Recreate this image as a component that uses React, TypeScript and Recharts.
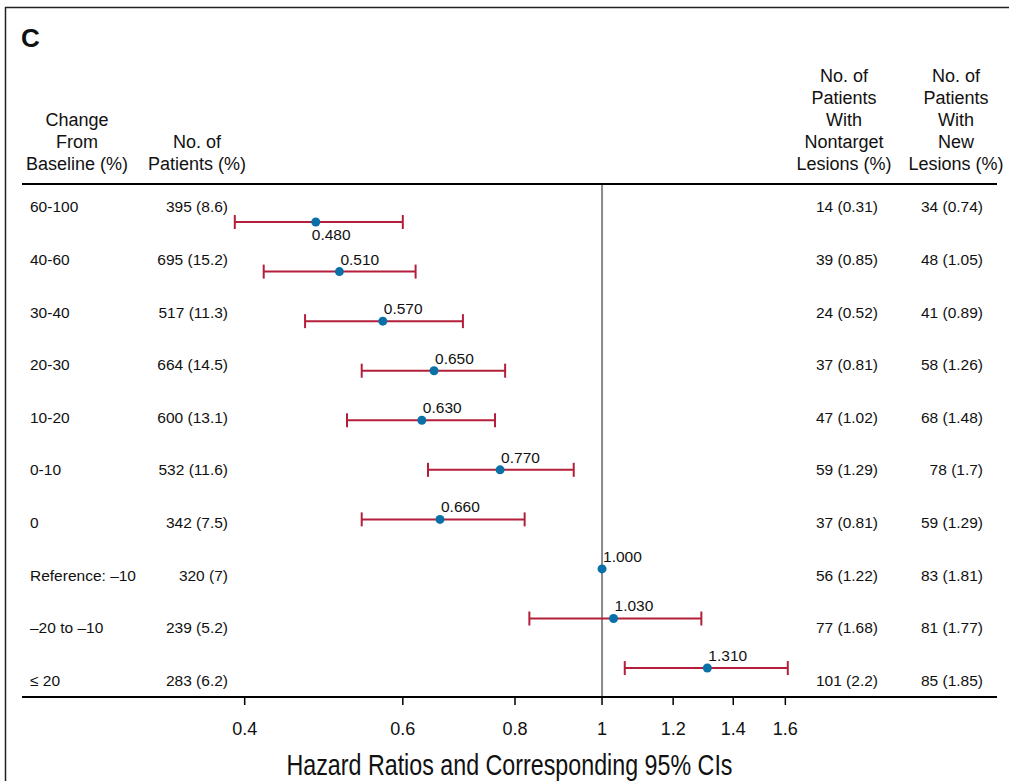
import React from "react";
import {
  ScatterChart,
  Scatter,
  XAxis,
  YAxis,
  ErrorBar,
  ReferenceLine,
} from "recharts";

// rows, top to bottom
const changeGroups = [
  "60-100",
  "40-60",
  "30-40",
  "20-30",
  "10-20",
  "0-10",
  "0",
  "Reference: –10",
  "–20 to –10",
  "≤ 20",
];
const patientCounts = [
  "395 (8.6)",
  "695 (15.2)",
  "517 (11.3)",
  "664 (14.5)",
  "600 (13.1)",
  "532 (11.6)",
  "342 (7.5)",
  "320 (7)",
  "239 (5.2)",
  "283 (6.2)",
];
const hazardRatios = [0.48, 0.51, 0.57, 0.65, 0.63, 0.77, 0.66, 1.0, 1.03, 1.31];
const ciLower = [0.39, 0.42, 0.467, 0.54, 0.52, 0.64, 0.54, null, 0.83, 1.06];
const ciUpper = [0.6, 0.62, 0.7, 0.78, 0.76, 0.93, 0.82, null, 1.29, 1.61];
const nontargetCounts = [
  "14 (0.31)",
  "39 (0.85)",
  "24 (0.52)",
  "37 (0.81)",
  "47 (1.02)",
  "59 (1.29)",
  "37 (0.81)",
  "56 (1.22)",
  "77 (1.68)",
  "101 (2.2)",
];
const newLesionCounts = [
  "34 (0.74)",
  "48 (1.05)",
  "41 (0.89)",
  "58 (1.26)",
  "68 (1.48)",
  "78 (1.7)",
  "59 (1.29)",
  "83 (1.81)",
  "81 (1.77)",
  "85 (1.85)",
];
const hrTicks = [0.4, 0.6, 0.8, 1, 1.2, 1.4, 1.6];

const headerLeft = ["Change", "From", "Baseline (%)"];
const headerPatients = ["No. of", "Patients (%)"];
const headerNontarget = ["No. of", "Patients", "With", "Nontarget", "Lesions (%)"];
const headerNew = ["No. of", "Patients", "With", "New", "Lesions (%)"];

const rows = hazardRatios.map((hr, i) => ({
  row: i,
  hr,
  err: ciLower[i] == null ? null : [hr - (ciLower[i] as number), (ciUpper[i] as number) - hr],
}));
const ciRows = rows.filter((r) => r.err != null);
const refRows = rows.filter((r) => r.err == null);
// table rows share the row index, drawn on their own y scale
const tableRows = changeGroups.map((_, i) => ({ row: i, hr: 1 }));

const FONT = "'Liberation Sans', Arial, Helvetica, sans-serif";
const RED = "#b31f3b";
const BLUE = "#0a70a8";

function Dot(props: any) {
  const { cx, cy, payload } = props;
  const below = payload.row === 0;
  return (
    <g>
      <circle cx={cx} cy={cy} r={4.5} fill={BLUE} />
      <text
        x={below ? cx - 4 : cx + 1}
        y={below ? cy + 18 : cy - 7}
        fontSize={15.5}
        fontFamily={FONT}
        fill="#111"
      >
        {payload.hr.toFixed(3)}
      </text>
    </g>
  );
}

// draws one table row at the y given by the table scale
function TableRow(props: any) {
  const { cy, payload } = props;
  const i = payload.row as number;
  const common = { y: cy + 5.5, fontSize: 15.5, fontFamily: FONT, fill: "#111" };
  return (
    <g>
      <text x={30} {...common}>{changeGroups[i]}</text>
      <text x={228} textAnchor="end" {...common}>{patientCounts[i]}</text>
      <text x={878} textAnchor="end" {...common}>{nontargetCounts[i]}</text>
      <text x={983} textAnchor="end" {...common}>{newLesionCounts[i]}</text>
    </g>
  );
}

function HeaderBlock({ lines, cx, lastY }: { lines: string[]; cx: number; lastY: number }) {
  return (
    <>
      {lines.map((t, k) => (
        <text
          key={k}
          x={cx}
          y={lastY - (lines.length - 1 - k) * 22}
          textAnchor="middle"
          fontSize={18}
          fontFamily={FONT}
          fill="#111"
        >
          {t}
        </text>
      ))}
    </>
  );
}

export default function App() {
  return (
    <div style={{ position: "absolute", left: 0, top: 0, width: 1009, height: 781, background: "#fff" }}>
      <ScatterChart
        width={1009}
        height={781}
        margin={{ top: 184, right: 12, bottom: 4, left: 22 }}
      >
        <XAxis
          dataKey="hr"
          type="number"
          scale="log"
          domain={[0.226, 2.753]}
          allowDataOverflow
          ticks={hrTicks}
          tickFormatter={(v) => String(v)}
          height={80}
          axisLine={{ stroke: "#000", strokeWidth: 2 }}
          tickLine={{ stroke: "#000", strokeWidth: 1.5 }}
          tickSize={8}
          tickMargin={17}
          tick={{ fill: "#111", fontSize: 18, fontFamily: FONT }}
          label={{
            content: (p: any) => {
              const vb = p.viewBox;
              return (
                <text
                  x={vb.x + vb.width / 2}
                  y={775}
                  textAnchor="middle"
                  fontSize={29}
                  fontFamily={FONT}
                  textLength={446}
                  lengthAdjust="spacingAndGlyphs"
                  fill="#111"
                >
                  Hazard Ratios and Corresponding 95% CIs
                </text>
              );
            },
          }}
        />
        <YAxis
          yAxisId="pt"
          dataKey="row"
          type="number"
          domain={[-0.767, 9.584]}
          reversed
          allowDataOverflow
          hide
        />
        <YAxis
          yAxisId="tbl"
          dataKey="row"
          type="number"
          domain={[-0.437, 9.316]}
          reversed
          allowDataOverflow
          hide
        />
        <ReferenceLine x={1} yAxisId="pt" stroke="#8a8a8a" strokeWidth={2} />
        <Scatter
          data={tableRows}
          yAxisId="tbl"
          shape={(p: any) => <TableRow {...p} />}
          isAnimationActive={false}
        />
        <Scatter data={ciRows} yAxisId="pt" shape={(p: any) => <Dot {...p} />} isAnimationActive={false}>
          <ErrorBar dataKey="err" direction="x" width={7} stroke={RED} strokeWidth={2} isAnimationActive={false} />
        </Scatter>
        <Scatter data={refRows} yAxisId="pt" shape={(p: any) => <Dot {...p} />} isAnimationActive={false} />
      </ScatterChart>
      <svg
        width={1009}
        height={781}
        style={{ position: "absolute", left: 0, top: 0, pointerEvents: "none" }}
      >
        <line x1={5.5} y1={7} x2={5.5} y2={781} stroke="#222" strokeWidth={1.5} />
        <line x1={5} y1={7.5} x2={1009} y2={7.5} stroke="#222" strokeWidth={1.5} />
        <text x={21} y={47} fontSize={26} fontWeight="bold" fontFamily={FONT} fill="#111">
          C
        </text>
        <HeaderBlock lines={headerLeft} cx={77} lastY={170} />
        <HeaderBlock lines={headerPatients} cx={197} lastY={170} />
        <HeaderBlock lines={headerNontarget} cx={844} lastY={170} />
        <HeaderBlock lines={headerNew} cx={956} lastY={170} />
        <line x1={22} y1={184} x2={997} y2={184} stroke="#000" strokeWidth={2} />
      </svg>
    </div>
  );
}
